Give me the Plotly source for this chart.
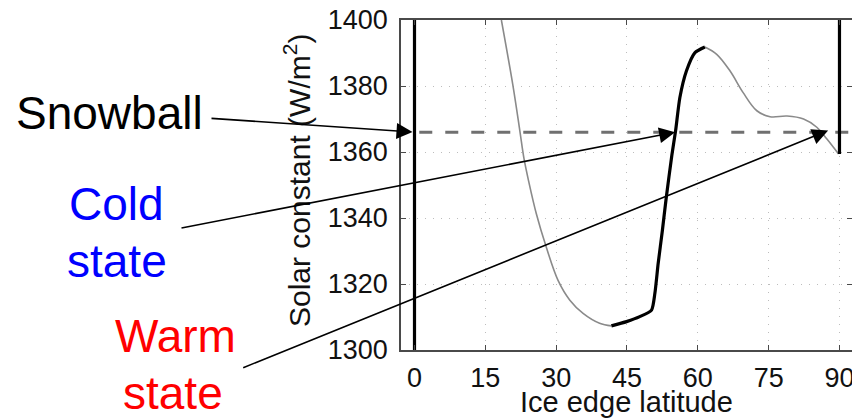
import plotly.graph_objects as go

# Equilibrium solar constant vs. ice-edge latitude
# Unstable (thin grey) branches and the stable (thick black) branch
lat_unstable_low = [18.4, 20.85, 22.3, 23.2, 24.2, 25.8, 27.9, 30.4, 32.9, 35.7, 39.2, 41.7]
s_unstable_low = [1400.0, 1380.1, 1366.5, 1357.9, 1351.0, 1341.3, 1331.2, 1321.1, 1315.1, 1311.1, 1308.1, 1307.3]

lat_stable = [41.7, 44.9, 47.7, 50.2, 50.9, 51.6, 52.5, 53.3, 54.5, 55.3, 56.2, 57.6, 59.4, 61.5]
s_stable = [1307.3, 1308.6, 1310.1, 1312.1, 1317.1, 1326.2, 1336.3, 1346.0, 1359.0, 1366.5, 1376.5, 1384.6, 1390.1, 1391.8]

lat_unstable_high = [61.5, 64.0, 66.8, 69.6, 72.5, 75.3, 78.9, 82.4, 85.2, 87.3, 89.8]
s_unstable_high = [1391.8, 1389.6, 1384.6, 1378.0, 1372.5, 1370.7, 1370.9, 1370.0, 1367.5, 1364.0, 1359.4]

# Snowball (ice edge at equator) and ice-free (ice edge at pole) solutions
snowball_lat = [0, 0]
snowball_s = [1300, 1400]
icefree_lat = [90, 90]
icefree_s = [1359.4, 1400]

present_s = 1366
x_ticks = [0, 15, 30, 45, 60, 75, 90]
y_ticks = [1300, 1320, 1340, 1360, 1380, 1400]

FONT = "Arial, Liberation Sans, Helvetica, sans-serif"

fig = go.Figure()

fig.add_trace(go.Scatter(x=[-10, 100], y=[present_s, present_s], mode="lines",
                         line=dict(color="#707070", width=3, dash="13px,13px"),
                         hoverinfo="skip"))
fig.add_trace(go.Scatter(x=lat_unstable_low, y=s_unstable_low, mode="lines",
                         line=dict(color="#8a8a8a", width=1.6, shape="spline", smoothing=1.0)))
fig.add_trace(go.Scatter(x=lat_unstable_high, y=s_unstable_high, mode="lines",
                         line=dict(color="#8a8a8a", width=1.6, shape="spline", smoothing=1.0)))
fig.add_trace(go.Scatter(x=lat_stable, y=s_stable, mode="lines",
                         line=dict(color="black", width=3.2, shape="spline", smoothing=0.6)))
fig.add_trace(go.Scatter(x=snowball_lat, y=snowball_s, mode="lines",
                         line=dict(color="black", width=3.2)))
fig.add_trace(go.Scatter(x=icefree_lat, y=icefree_s, mode="lines",
                         line=dict(color="black", width=3.2)))

# plot area in pixels: x 401..852, y 20..350
L, R, T, B = 401, 852, 20, 350
W, H = R - L, B - T


def px(xp):
    return (xp - L) / W


def py(yp):
    return (B - yp) / H


annotations = [
    dict(text="Solar constant (W/m<sup>2</sup>)", xref="paper", yref="paper",
         x=px(297), y=py(181), textangle=-90, showarrow=False,
         font=dict(family=FONT, size=30, color="#111111"),
         xanchor="center", yanchor="middle"),
    dict(text="Ice edge latitude", xref="paper", yref="paper",
         x=0.5, y=py(402), showarrow=False,
         font=dict(family=FONT, size=29, color="#111111"),
         xanchor="center", yanchor="middle"),
    dict(text="Snowball", xref="paper", yref="paper", x=px(109.5), y=py(113),
         showarrow=False, font=dict(family=FONT, size=46, color="black"),
         xanchor="center", yanchor="middle"),
    dict(text="Cold", xref="paper", yref="paper", x=px(116), y=py(204),
         showarrow=False, font=dict(family=FONT, size=46, color="#0000ff"),
         xanchor="center", yanchor="middle"),
    dict(text="state", xref="paper", yref="paper", x=px(117), y=py(261),
         showarrow=False, font=dict(family=FONT, size=46, color="#0000ff"),
         xanchor="center", yanchor="middle"),
    dict(text="Warm", xref="paper", yref="paper", x=px(175), y=py(336),
         showarrow=False, font=dict(family=FONT, size=46, color="#ff0000"),
         xanchor="center", yanchor="middle"),
    dict(text="state", xref="paper", yref="paper", x=px(173), y=py(393),
         showarrow=False, font=dict(family=FONT, size=46, color="#ff0000"),
         xanchor="center", yanchor="middle"),
]

# arrows: head in data coordinates, tail in data coordinates beyond the axes
arrow_heads = [(0, present_s), (55.2, present_s), (87.6, 1366.5)]
arrow_tails_px = [(210, 118.3), (180, 228.3), (241.7, 368.3)]
x0_px, deg_px = 414.5, 4.722
for (hx, hy), (tx, ty) in zip(arrow_heads, arrow_tails_px):
    annotations.append(dict(
        text="", x=hx, y=hy, xref="x", yref="y",
        ax=(tx - x0_px) / deg_px, ay=1300 + (B - ty) / (H / 100),
        axref="x", ayref="y", showarrow=True,
        arrowhead=2, arrowsize=2.0, arrowwidth=1.6, arrowcolor="black",
        standoff=2 if hx == 0 else 0,
    ))

axis_common = dict(
    showline=True, linecolor="#4a4a4a", linewidth=1.6,
    ticks="inside", ticklen=5, tickcolor="#4a4a4a", tickwidth=1,
    showgrid=True, gridcolor="#bdbdbd", gridwidth=1, griddash="1px,7px",
    zeroline=False, ticklabeloverflow="allow",
    tickfont=dict(family=FONT, size=27, color="#111111"),
)

fig.update_layout(
    width=852, height=419,
    margin=dict(l=L, r=852 - R, t=T, b=419 - B, autoexpand=False),
    paper_bgcolor="white", plot_bgcolor="white",
    showlegend=False,
    xaxis=dict(range=[(L - x0_px) / deg_px, (R - x0_px) / deg_px],
               tickvals=x_ticks, mirror="allticks", ticklabelstandoff=3, **axis_common),
    yaxis=dict(range=[1300, 1400], tickvals=y_ticks, mirror="ticks",
               ticklabelstandoff=6, **axis_common),
    annotations=annotations,
)

fig.write_html("out.html")
